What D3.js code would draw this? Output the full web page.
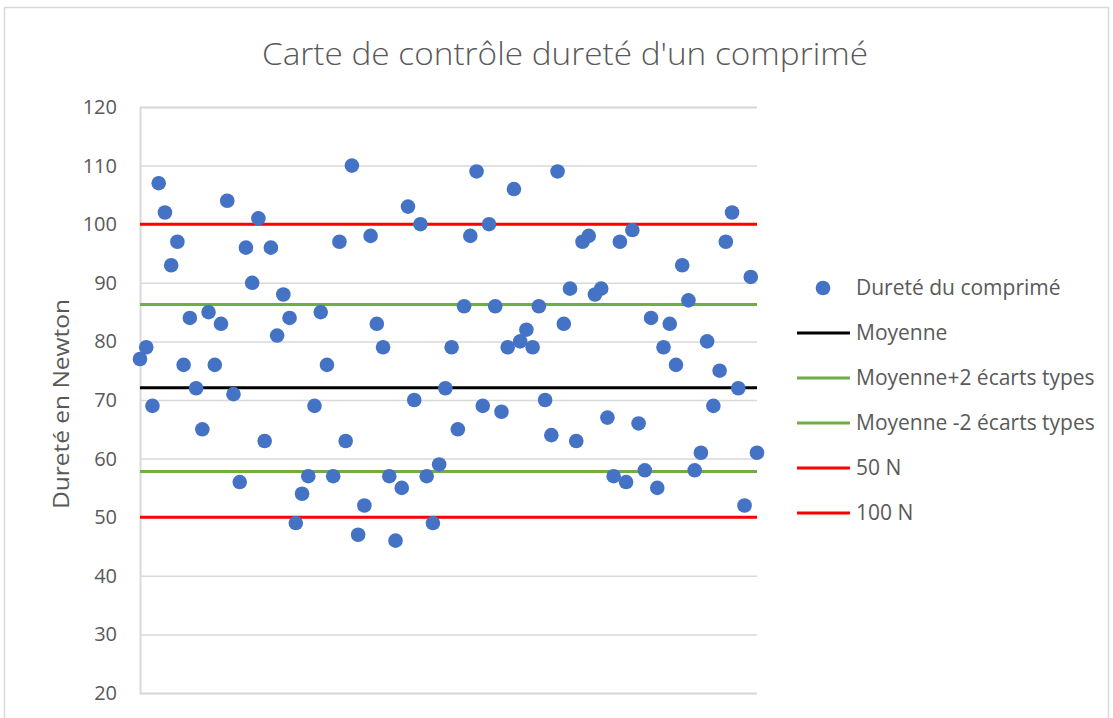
<!DOCTYPE html>
<html>
<head>
<meta charset="utf-8">
<script src="https://cdn.jsdelivr.net/npm/d3@7"></script>
<style>
  body { margin: 0; background: white; }
  text { font-family: "Open Sans", "Noto Sans", sans-serif; fill: #595959; }
</style>
</head>
<body>
<div id="chart"></div>
<script>
/* CONSTANTS AND GLOBALS */
const width = 1113;
const height = 718;

/* DATA */
const durete = [77, 79, 69, 107, 102, 93, 97, 76, 84, 72,
  65, 85, 76, 83, 104, 71, 56, 96, 90, 101,
  63, 96, 81, 88, 84, 49, 54, 57, 69, 85,
  76, 57, 97, 63, 110, 47, 52, 98, 83, 79,
  57, 46, 55, 103, 70, 100, 57, 49, 59, 72,
  79, 65, 86, 98, 109, 69, 100, 86, 68, 79,
  106, 80, 82, 79, 86, 70, 64, 109, 83, 89,
  63, 97, 98, 88, 89, 67, 57, 97, 56, 99,
  66, 58, 84, 55, 79, 83, 76, 93, 87, 58,
  61, 80, 69, 75, 97, 102, 72, 52, 91, 61];
const refNames = ["Moyenne", "Moyenne+2 écarts types", "Moyenne -2 écarts types", "50 N", "100 N"];
const refValues = [72.1, 86.3, 57.8, 50, 100];
const refColors = ["#000000", "#70ad47", "#70ad47", "#ff0000", "#ff0000"];
const yTicks = [20, 30, 40, 50, 60, 70, 80, 90, 100, 110, 120];

/* SCALES */
const xScale = d3.scaleLinear()
  .domain([1, durete.length])
  .range([140, 757]);

const yScale = d3.scaleLinear()
  .domain([20, 120])
  .range([693, 107]);

/* HTML ELEMENTS */
const svg = d3.select("#chart")
  .append("svg")
  .attr("width", width)
  .attr("height", height)
  .style("background-color", "white");

// chart frame
svg.append("rect")
  .attr("x", 4.5).attr("y", 7.5)
  .attr("width", 1104).attr("height", 720)
  .attr("fill", "white")
  .attr("stroke", "#d9d9d9")
  .attr("stroke-width", 1.5);

svg.append("text")
  .attr("x", 565).attr("y", 65)
  .attr("text-anchor", "middle")
  .attr("textLength", 606)
  .attr("lengthAdjust", "spacingAndGlyphs")
  .style("font-size", "32px")
  .style("font-weight", 300)
  .text("Carte de contrôle dureté d'un comprimé");

// gridlines + y axis
const yAxis = d3.axisLeft(yScale)
  .tickValues(yTicks)
  .tickSize(-(757 - 140))
  .tickPadding(23);

const gAxis = svg.append("g")
  .attr("transform", "translate(140,0)")
  .call(yAxis);
gAxis.select(".domain").attr("stroke", "#d9d9d9").attr("stroke-width", 2);
gAxis.selectAll(".tick line").attr("stroke", "#d9d9d9").attr("stroke-width", 1.5);
gAxis.selectAll(".tick text")
  .style("font-size", "20px")
  .attr("fill", "#595959");

svg.append("text")
  .attr("transform", "translate(69,404) rotate(-90)")
  .attr("text-anchor", "middle")
  .attr("textLength", 210)
  .attr("lengthAdjust", "spacingAndGlyphs")
  .style("font-size", "22px")
  .text("Dureté en Newton");

// reference lines
svg.selectAll(".ref")
  .data(refValues)
  .join("line")
  .attr("class", "ref")
  .attr("x1", xScale(1))
  .attr("x2", xScale(durete.length))
  .attr("y1", d => yScale(d))
  .attr("y2", d => yScale(d))
  .attr("stroke", (d, i) => refColors[i])
  .attr("stroke-width", 3);

// points
svg.selectAll(".dot")
  .data(durete)
  .join("circle")
  .attr("class", "dot")
  .attr("cx", (d, i) => xScale(i + 1))
  .attr("cy", d => yScale(d))
  .attr("r", 7.3)
  .attr("fill", "#4472c4");

/* LEGEND */
const legend = svg.append("g");
const legendY = d3.scalePoint()
  .domain(d3.range(refNames.length + 1))
  .range([288, 513]);

legend.append("circle")
  .attr("cx", 823).attr("cy", legendY(0))
  .attr("r", 7.3)
  .attr("fill", "#4472c4");
legend.append("text")
  .attr("x", 856).attr("y", legendY(0))
  .attr("dy", "0.35em")
  .style("font-size", "21px")
  .text("Dureté du comprimé");

refNames.forEach((name, i) => {
  const y = legendY(i + 1);
  legend.append("line")
    .attr("x1", 797).attr("x2", 850)
    .attr("y1", y).attr("y2", y)
    .attr("stroke", refColors[i])
    .attr("stroke-width", 3);
  legend.append("text")
    .attr("x", 856).attr("y", y)
    .attr("dy", "0.35em")
    .style("font-size", "21px")
    .text(name);
});
</script>
</body>
</html>
